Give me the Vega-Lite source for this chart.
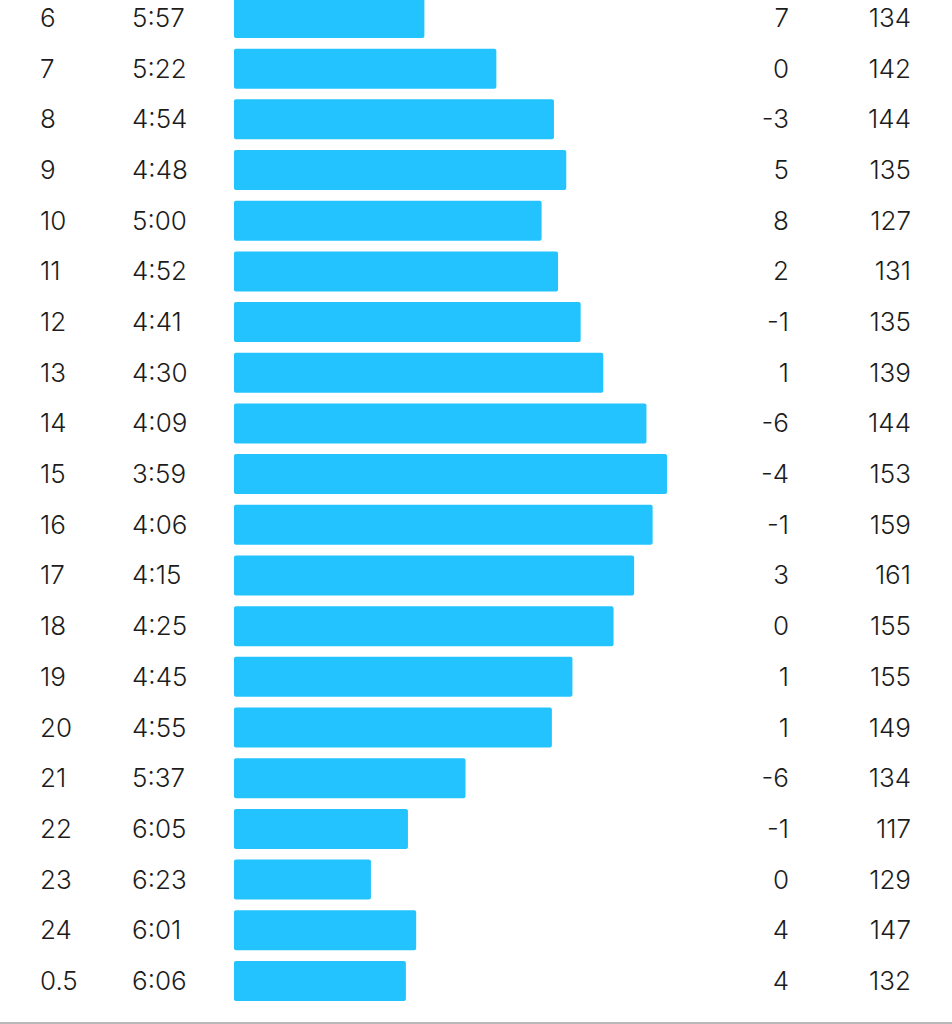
{
  "$schema": "https://vega.github.io/schema/vega-lite/v6.json",
  "width": 952,
  "height": 1024,
  "padding": 0,
  "autosize": {"type": "none"},
  "background": "#ffffff",
  "config": {"view": {"stroke": null}, "text": {"font": "Inter", "fontSize": 26, "fontWeight": 300, "color": "#1c1c1c", "dy": 1}},
  "data": {
    "values": [
      {"i": 0, "km": "6", "pace": "5:57", "sec": 357, "elev": 7, "hr": 134},
      {"i": 1, "km": "7", "pace": "5:22", "sec": 322, "elev": 0, "hr": 142},
      {"i": 2, "km": "8", "pace": "4:54", "sec": 294, "elev": -3, "hr": 144},
      {"i": 3, "km": "9", "pace": "4:48", "sec": 288, "elev": 5, "hr": 135},
      {"i": 4, "km": "10", "pace": "5:00", "sec": 300, "elev": 8, "hr": 127},
      {"i": 5, "km": "11", "pace": "4:52", "sec": 292, "elev": 2, "hr": 131},
      {"i": 6, "km": "12", "pace": "4:41", "sec": 281, "elev": -1, "hr": 135},
      {"i": 7, "km": "13", "pace": "4:30", "sec": 270, "elev": 1, "hr": 139},
      {"i": 8, "km": "14", "pace": "4:09", "sec": 249, "elev": -6, "hr": 144},
      {"i": 9, "km": "15", "pace": "3:59", "sec": 239, "elev": -4, "hr": 153},
      {"i": 10, "km": "16", "pace": "4:06", "sec": 246, "elev": -1, "hr": 159},
      {"i": 11, "km": "17", "pace": "4:15", "sec": 255, "elev": 3, "hr": 161},
      {"i": 12, "km": "18", "pace": "4:25", "sec": 265, "elev": 0, "hr": 155},
      {"i": 13, "km": "19", "pace": "4:45", "sec": 285, "elev": 1, "hr": 155},
      {"i": 14, "km": "20", "pace": "4:55", "sec": 295, "elev": 1, "hr": 149},
      {"i": 15, "km": "21", "pace": "5:37", "sec": 337, "elev": -6, "hr": 134},
      {"i": 16, "km": "22", "pace": "6:05", "sec": 365, "elev": -1, "hr": 117},
      {"i": 17, "km": "23", "pace": "6:23", "sec": 383, "elev": 0, "hr": 129},
      {"i": 18, "km": "24", "pace": "6:01", "sec": 361, "elev": 4, "hr": 147},
      {"i": 19, "km": "0.5", "pace": "6:06", "sec": 366, "elev": 4, "hr": 132}
    ]
  },
  "encoding": {
    "y": {"field": "i", "type": "quantitative", "axis": null,
          "scale": {"domain": [-0.355, 19.85], "reverse": true, "nice": false, "zero": false, "padding": 0}}
  },
  "layer": [
    {
      "mark": {"type": "bar", "orient": "horizontal", "size": 40, "cornerRadius": 2, "color": "#22c3fe"},
      "encoding": {
        "x": {"field": "sec", "type": "quantitative", "axis": null,
              "scale": {"domain": [100.4, 563.4], "reverse": true, "nice": false, "zero": false, "padding": 0}},
        "x2": {"datum": 449.6}
      }
    },
    {
      "mark": {"type": "text", "align": "left", "baseline": "middle"},
      "encoding": {"x": {"value": 40}, "text": {"field": "km"}}
    },
    {
      "mark": {"type": "text", "align": "left", "baseline": "middle"},
      "encoding": {"x": {"value": 132}, "text": {"field": "pace"}}
    },
    {
      "mark": {"type": "text", "align": "right", "baseline": "middle"},
      "encoding": {"x": {"value": 789}, "text": {"field": "elev"}}
    },
    {
      "mark": {"type": "text", "align": "right", "baseline": "middle"},
      "encoding": {"x": {"value": 911}, "text": {"field": "hr"}}
    },
    {
      "mark": {"type": "rule", "color": "#b8b8b8", "strokeWidth": 2},
      "encoding": {"y": {"datum": 19.83}}
    }
  ]
}
